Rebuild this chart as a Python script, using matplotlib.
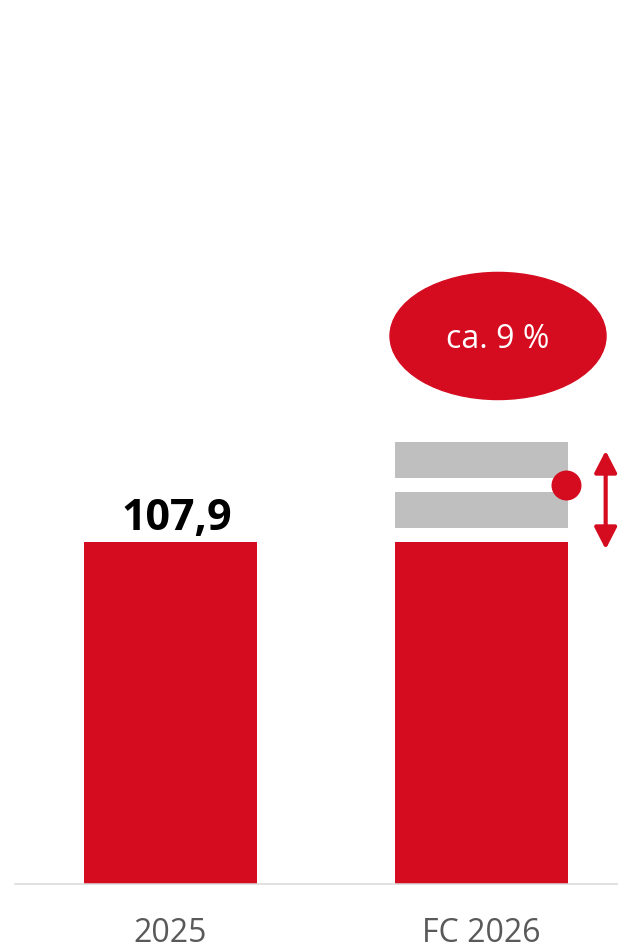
import matplotlib.pyplot as plt
from matplotlib.patches import Ellipse

plt.rcParams['font.family'] = ['Open Sans', 'DejaVu Sans']

# data
categories = ["2025", "FC 2026"]
base_values = [107.9, 107.9]
value_label = "107,9"
# forecast range blocks (bottom, top) on FC 2026
range_blocks = [(112.4, 123.6), (128.2, 139.4)]
forecast_point = 125.9
arrow_range = (105.6, 136.7)
growth_label = "ca. 9 %"

red = "#D50C20"
grey = "#BFBFBF"

fig = plt.figure(figsize=(6.18, 9.43), dpi=100)
ax = fig.add_axes([15 / 618, 59 / 943, 603 / 618, 884 / 943])

x = [0, 1]
bar_w = 0.557
ax.bar(x, base_values, width=bar_w, color=red, zorder=2)
for lo, hi in range_blocks:
    ax.bar(1, hi - lo, bottom=lo, width=bar_w, color=grey, zorder=2)

ax.text(0.02, 111.7, value_label, ha="center", va="baseline",
        fontsize=31, fontweight="bold", color="black")

# forecast dot and range arrow
ax.scatter([1.2735], [forecast_point], s=466, color=red, zorder=3, linewidths=0)
ax.annotate("", xy=(1.4003, arrow_range[1]), xytext=(1.4003, arrow_range[0]),
            arrowprops=dict(arrowstyle="<|-|>,head_length=0.66,head_width=0.34",
                            mutation_scale=20, lw=3, color=red,
                            shrinkA=0, shrinkB=0))

# growth bubble
ax.add_patch(Ellipse((1.054, 172.9), 0.695, 40.1, color=red, zorder=3))
ax.text(1.054, 169.0, growth_label, ha="center", va="baseline",
        fontsize=23, color="white", zorder=4)

ax.set_xlim(-0.5, 1.44)
ax.set_ylim(0, 278.9)
ax.set_xticks(x)
ax.set_xticklabels(categories, fontsize=23, color="#595959")
ax.tick_params(axis="x", length=0, pad=24)
ax.set_yticks([])
for side in ["top", "left", "right"]:
    ax.spines[side].set_visible(False)
ax.spines["bottom"].set_color("#D9D9D9")
ax.spines["bottom"].set_linewidth(1.1)

fig.savefig("out.png", dpi=100)
